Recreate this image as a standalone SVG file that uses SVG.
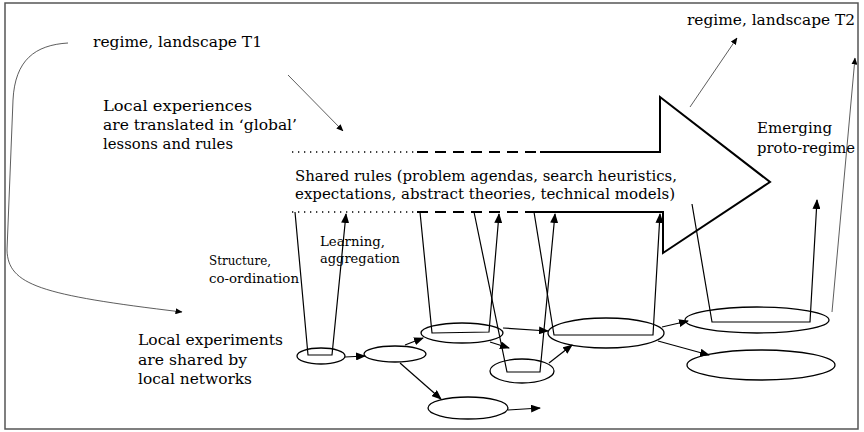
<svg xmlns="http://www.w3.org/2000/svg" width="864" height="432" viewBox="0 0 864 432">
<style>
text{font-family:"DejaVu Serif","Liberation Serif","Noto Serif",serif;fill:#000}
.t16{font-size:15px}
.t14{font-size:13px}
.t17{font-size:15.5px}
.ln{fill:none;stroke:#000;stroke-width:1.2}
.thin{fill:none;stroke:#333;stroke-width:0.8}
.el{fill:none;stroke:#000;stroke-width:1.3}
.big{fill:none;stroke:#000;stroke-width:2}
.dash{fill:none;stroke:#000;stroke-width:2;stroke-dasharray:11 7}
.dot{fill:none;stroke:#000;stroke-width:1.3;stroke-dasharray:1.3 4.7}
</style>
<defs>
<marker id="ah" markerWidth="10" markerHeight="8" refX="9" refY="4" orient="auto" markerUnits="userSpaceOnUse"><path d="M0,0 L10,4 L0,8 z" fill="#000"/></marker>
<marker id="as" markerWidth="7" markerHeight="6" refX="6.5" refY="3" orient="auto" markerUnits="userSpaceOnUse"><path d="M0,0 L7,3 L0,6 z" fill="#000"/></marker>
</defs>
<rect x="5" y="3" width="853" height="426" fill="#fff" stroke="#555" stroke-width="1.5"/>

<g id="arrow-shared-rules">
<path class="big" d="M540,152 H660 V97 L770,182 L663,253 V212 H530"/>
<path class="dash" d="M417,152 H540 M417,212 H530"/>
<path class="dot" d="M292,152 H417 M292,212 H417"/>
<text class="t16" x="295" y="181" textLength="382" lengthAdjust="spacingAndGlyphs">Shared rules (problem agendas, search heuristics,</text>
<text class="t16" x="295" y="199" textLength="380" lengthAdjust="spacingAndGlyphs">expectations, abstract theories, technical models)</text>
</g>

<g id="label-t1"><text class="t17" x="93" y="47" textLength="169" lengthAdjust="spacingAndGlyphs">regime, landscape T1</text></g>
<g id="label-t2"><text class="t17" x="687" y="25" textLength="168" lengthAdjust="spacingAndGlyphs">regime, landscape T2</text></g>
<g id="label-local-exp">
<text class="t16" x="103" y="111" textLength="149" lengthAdjust="spacingAndGlyphs">Local experiences</text>
<text class="t16" x="103" y="130" textLength="194" lengthAdjust="spacingAndGlyphs">are translated in ‘global’</text>
<text class="t16" x="103" y="149" textLength="130" lengthAdjust="spacingAndGlyphs">lessons and rules</text>
</g>
<g id="label-learning">
<text class="t14" x="320" y="246" textLength="65" lengthAdjust="spacingAndGlyphs">Learning,</text>
<text class="t14" x="320" y="263" textLength="80" lengthAdjust="spacingAndGlyphs">aggregation</text>
</g>
<g id="label-structure">
<text class="t14" x="209" y="265" textLength="62" lengthAdjust="spacingAndGlyphs">Structure,</text>
<text class="t14" x="209" y="283" textLength="90" lengthAdjust="spacingAndGlyphs">co-ordination</text>
</g>
<g id="label-local-experiments">
<text class="t16" x="138" y="345" textLength="145" lengthAdjust="spacingAndGlyphs">Local experiments</text>
<text class="t16" x="138" y="365" textLength="109" lengthAdjust="spacingAndGlyphs">are shared by</text>
<text class="t16" x="138" y="384" textLength="114" lengthAdjust="spacingAndGlyphs">local networks</text>
</g>
<g id="label-emerging">
<text class="t16" x="757" y="133" textLength="75" lengthAdjust="spacingAndGlyphs">Emerging</text>
<text class="t16" x="757" y="153" textLength="98" lengthAdjust="spacingAndGlyphs">proto-regime</text>
</g>

<g id="node-a"><ellipse class="el" cx="321" cy="356" rx="24" ry="8"/></g>
<g id="node-b"><ellipse class="el" cx="395" cy="354" rx="31" ry="8"/></g>
<g id="node-c"><ellipse class="el" cx="462" cy="333" rx="41" ry="10"/></g>
<g id="node-d"><ellipse class="el" cx="522" cy="371" rx="32" ry="12"/></g>
<g id="node-e"><ellipse class="el" cx="606" cy="333" rx="58" ry="15"/></g>
<g id="node-f"><ellipse class="el" cx="757" cy="320" rx="72" ry="13"/></g>
<g id="node-g"><ellipse class="el" cx="761" cy="365" rx="74" ry="15"/></g>
<g id="node-h"><ellipse class="el" cx="468" cy="408" rx="40" ry="11"/></g>

<g id="connectors">
<path class="thin" d="M68,43 C35,45 15,60 13,100 L7,250 C8,285 40,295 182,312" marker-end="url(#as)"/>
<path class="thin" d="M288,75 L343,131" marker-end="url(#as)"/>
<path class="thin" d="M690,107 L737,38" marker-end="url(#as)"/>
<path class="thin" d="M832,312 L855,58" marker-end="url(#as)"/>

<polyline class="ln" points="295,212 308,355 332,355 346,214" marker-end="url(#ah)"/>
<polyline class="ln" points="420,212 432,333 489,332 499,214" marker-end="url(#ah)"/>
<polyline class="ln" points="474,212 507,372 540,372 555,214" marker-end="url(#ah)"/>
<polyline class="ln" points="534,212 554,335 653,335 660,214" marker-end="url(#ah)"/>
<polyline class="ln" points="692,204 712,322 810,322 817,200" marker-end="url(#ah)"/>

<path class="ln" d="M345,357 L365,356" marker-end="url(#ah)"/>
<path class="ln" d="M405,345 L423,338" marker-end="url(#ah)"/>
<path class="ln" d="M400,363 L441,399" marker-end="url(#ah)"/>
<path class="ln" d="M508,410 L540,408" marker-end="url(#ah)"/>
<path class="ln" d="M503,328 L548,331" marker-end="url(#ah)"/>
<path class="ln" d="M490,342 L509,348" marker-end="url(#ah)"/>
<path class="ln" d="M549,363 L572,345" marker-end="url(#ah)"/>
<path class="ln" d="M662,327 L688,321" marker-end="url(#ah)"/>
<path class="ln" d="M658,341 L709,355" marker-end="url(#ah)"/>
</g>
</svg>
